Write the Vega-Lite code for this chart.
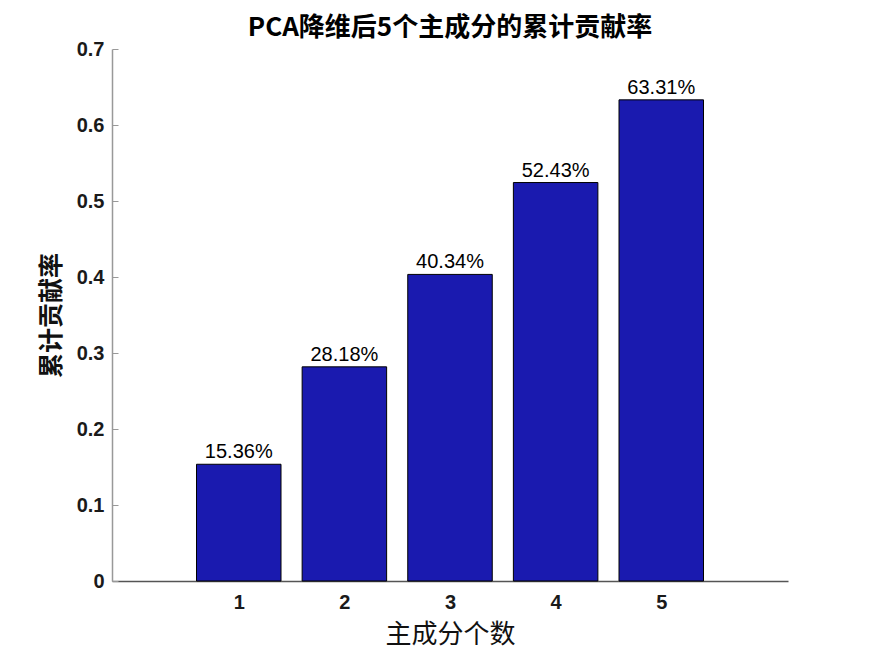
{
  "$schema": "https://vega.github.io/schema/vega-lite/v6.json",
  "autosize": "none",
  "width": 676,
  "height": 532,
  "padding": {"left": 112, "top": 49, "right": 84, "bottom": 73},
  "background": "white",
  "config": {"view": {"stroke": null}},
  "title": {
    "text": "PCA降维后5个主成分的累计贡献率",
    "font": "Noto Sans CJK SC",
    "fontSize": 26,
    "fontWeight": "bold",
    "color": "#000000",
    "anchor": "middle",
    "offset": -2
  },
  "data": {
    "values": [
      {"n": 1, "v": 0.1536, "label": "15.36%"},
      {"n": 2, "v": 0.2818, "label": "28.18%"},
      {"n": 3, "v": 0.4034, "label": "40.34%"},
      {"n": 4, "v": 0.5243, "label": "52.43%"},
      {"n": 5, "v": 0.6331, "label": "63.31%"}
    ]
  },
  "encoding": {
    "x": {
      "field": "n",
      "type": "quantitative",
      "scale": {"domain": [-0.2, 6.2], "nice": false, "zero": false, "padding": 0},
      "axis": {
        "values": [1, 2, 3, 4, 5],
        "title": "主成分个数",
        "titleFont": "Noto Sans CJK SC",
        "titleFontSize": 26,
        "titleFontWeight": "normal",
        "titleColor": "#111111",
        "titlePadding": 9,
        "labelFont": "Liberation Sans",
        "labelFontSize": 20,
        "labelFontWeight": "bold",
        "labelColor": "#1a1a1a",
        "labelPadding": 17,
        "grid": false,
        "domainColor": "#555555",
        "domainWidth": 1.5,
        "tickColor": "#555555",
        "tickSize": -6
      }
    },
    "y": {
      "field": "v",
      "type": "quantitative",
      "scale": {"domain": [0, 0.7], "nice": false},
      "axis": {
        "values": [0, 0.1, 0.2, 0.3, 0.4, 0.5, 0.6, 0.7],
        "labelExpr": "datum.value == 0 ? '0' : format(datum.value, '.1f')",
        "title": "累计贡献率",
        "titleFont": "Noto Sans CJK SC",
        "titleFontSize": 25,
        "titleFontWeight": "bold",
        "titleColor": "#111111",
        "titlePadding": 12,
        "labelFont": "Liberation Sans",
        "labelFontSize": 20,
        "labelFontWeight": "bold",
        "labelColor": "#1a1a1a",
        "labelPadding": 14,
        "grid": false,
        "domainColor": "#999999",
        "domainWidth": 1.5,
        "tickColor": "#999999",
        "tickSize": -6
      }
    }
  },
  "layer": [
    {
      "mark": {"type": "bar", "size": 84.5, "color": "#1a1aaf", "stroke": "#000000", "strokeWidth": 1}
    },
    {
      "mark": {"type": "text", "baseline": "bottom", "dy": -2, "font": "Liberation Sans", "fontSize": 20, "color": "#000000"},
      "encoding": {"text": {"field": "label"}}
    }
  ]
}
